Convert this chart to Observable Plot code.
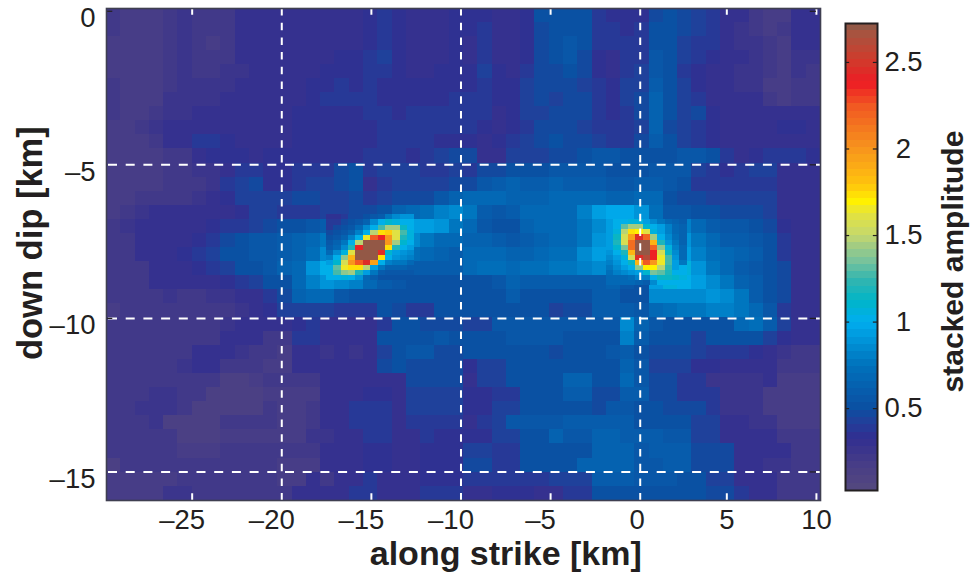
<!DOCTYPE html>
<html>
<head>
<meta charset="utf-8">
<script src="https://cdn.jsdelivr.net/npm/d3@7"></script>
<script src="https://cdn.jsdelivr.net/npm/@observablehq/plot@0.6"></script>
<style>
html,body{margin:0;padding:0;background:#fff}
#wrap{position:relative;width:971px;height:578px;overflow:hidden}
#wrap svg{position:absolute;left:0;top:0;overflow:visible}
</style>
</head>
<body>
<div id="wrap"></div>
<script>
// Axis ticks
const xGrid = [-20, -10, 0];
const yGrid = [-5, -10, -15];
const xInnerTicksNeg = [-25, -15, -5];
const xInnerTicksPos = [5, 10];
const xLabelsNeg = [-25, -20, -15, -10, -5];
const xLabelsPos = [0, 5, 10];
const yLabels = [0, -5, -10, -15];
const barTicks = [0.5, 1, 1.5, 2, 2.5];

// Colour map stops
const stopValues = [0.03, 0.15, 0.33, 0.42, 0.5, 0.75, 1.0, 1.12, 1.24, 1.36, 1.45, 1.5, 1.63, 1.69, 1.8, 2.0, 2.24, 2.38, 2.5, 2.66, 2.72];
const stopColors = ["#54487e", "#4a3f85", "#312e91", "#21409a", "#0b4fa2", "#0072bc", "#00aeef", "#00b5c8", "#32b5b0", "#7cc49a", "#a8cd7f", "#c5d86d", "#e6e33c", "#fff200", "#ffc20e", "#f7941d", "#f15a22", "#ed1c24", "#d2392b", "#a9533f", "#8b5a48"];
const barMin = 0.027, barMax = 2.725, levels = 64;

// Stacked amplitude x100, coarse grid, top row first, along-strike left to right
const heatRows = [
[20,19,17,17,21,27,22,20,21,28,28,29,30,30,29,28,28,30,33,38,35,31,31,32,34,33,36,31,29,34,50,52,52,50,38,36,35,36,48,50,46,42,40,30,28,20,19,19,28,30],
[20,19,17,17,21,27,21,20,21,28,28,29,30,30,29,29,29,31,34,38,35,31,31,32,34,33,37,31,29,33,49,52,53,52,40,37,36,37,50,50,46,42,40,30,27,20,19,20,28,30],
[19,18,17,17,20,26,20,19,21,28,28,29,30,30,30,30,31,32,36,40,36,31,31,32,33,32,38,32,29,33,47,52,54,50,40,37,37,38,52,52,44,40,38,30,27,26,22,19,28,30],
[19,18,17,18,21,25,20,20,22,28,28,29,30,31,30,31,33,34,38,42,36,32,31,32,33,32,40,32,30,35,46,50,54,48,36,30,38,40,54,52,42,38,35,30,28,26,20,18,27,25],
[19,18,17,18,21,24,21,22,24,27,28,29,31,31,31,33,35,36,38,38,35,32,32,33,34,33,42,33,32,40,46,48,50,46,36,30,40,44,56,50,40,36,30,28,27,26,20,18,24,20],
[20,18,18,19,23,25,24,24,26,28,28,29,31,32,33,36,38,36,38,36,34,33,33,34,36,35,40,34,34,42,46,46,48,44,38,35,42,44,58,50,42,36,30,28,27,26,19,18,20,20],
[20,19,18,19,24,26,26,26,28,28,29,30,32,32,34,38,40,38,38,36,35,35,36,36,38,38,40,34,36,44,46,44,46,46,40,36,42,46,62,50,42,38,32,30,28,28,20,18,20,20],
[20,19,19,21,25,27,28,28,30,30,30,30,31,33,33,36,36,36,37,37,36,37,38,38,38,40,38,32,34,42,44,46,46,46,40,36,40,46,64,50,42,48,34,30,30,28,30,30,28,28],
[18,18,20,24,28,30,30,31,30,30,30,30,31,33,34,36,34,34,36,40,38,38,40,38,38,38,34,30,34,40,46,48,46,44,40,38,38,44,62,48,42,40,36,30,30,30,30,34,34,30],
[18,17,19,23,28,31,38,40,34,32,32,32,32,33,35,35,34,33,36,38,40,40,38,36,36,35,32,34,40,44,48,50,46,45,42,40,38,46,58,50,44,40,36,30,30,30,30,30,30,28],
[16,16,17,18,20,22,30,34,36,34,30,33,36,36,36,34,34,34,38,40,38,36,38,42,46,45,30,32,42,42,44,46,46,52,56,56,52,52,50,50,56,54,50,40,30,36,40,38,38,36],
[17,17,18,18,20,22,25,26,32,38,40,36,36,38,40,38,46,50,40,42,44,42,40,40,44,40,46,48,50,52,52,56,56,56,56,52,50,52,54,56,54,42,38,36,38,42,42,30,30,30],
[17,17,17,18,20,22,23,26,40,44,46,36,34,38,42,44,48,52,32,38,44,42,42,44,48,48,56,60,62,60,60,62,60,60,60,56,56,60,60,55,50,38,38,38,40,40,40,32,30,30],
[17,18,21,22,21,22,25,30,36,42,44,42,44,46,46,42,44,48,40,44,48,46,48,56,62,66,68,66,64,64,62,66,68,68,66,62,62,66,70,50,48,46,44,44,42,44,44,32,30,28],
[19,20,26,28,28,28,30,30,32,34,42,42,40,38,38,42,44,46,46,52,62,66,72,80,84,76,60,56,60,68,70,66,66,80,92,96,96,88,72,56,54,52,50,48,46,46,42,30,30,28],
[20,24,28,28,28,28,32,36,38,40,44,46,50,52,54,58,66,72,100,120,100,95,92,88,78,66,55,50,52,62,66,66,66,78,85,98,105,110,110,96,80,70,60,56,56,52,46,34,30,28],
[20,20,28,30,30,30,34,40,48,52,55,56,58,62,68,75,100,200,170,110,92,84,76,70,66,64,64,60,55,58,62,68,70,78,88,96,130,180,170,130,88,75,68,60,58,56,52,40,30,28],
[20,20,28,30,30,34,38,44,50,52,55,56,60,64,72,85,110,260,140,100,80,72,66,62,60,66,68,66,62,62,70,72,74,86,92,100,140,220,220,130,95,82,72,66,62,58,52,40,30,28],
[20,20,22,28,30,30,36,40,44,50,53,56,62,70,88,100,150,170,110,75,65,60,60,58,58,70,72,72,70,72,74,76,78,82,86,90,100,130,150,170,105,88,78,68,60,56,52,45,30,28],
[20,20,22,28,28,28,30,30,33,40,43,50,53,66,80,88,85,80,70,58,54,50,50,50,50,53,53,55,62,60,58,58,58,60,60,62,55,52,95,105,100,95,85,75,65,58,52,46,30,28],
[20,22,22,22,24,22,22,24,24,30,30,40,46,62,68,68,55,52,50,50,50,50,50,50,50,52,52,52,58,52,52,52,50,50,58,60,50,50,85,85,85,85,88,85,75,60,52,46,28,28],
[16,20,22,22,22,22,22,22,22,25,28,35,42,44,44,42,40,40,40,50,45,40,40,50,50,52,52,52,52,52,52,42,46,48,60,60,60,55,68,72,75,75,80,82,78,68,55,40,30,30],
[20,20,20,20,20,20,20,20,25,30,30,30,32,36,38,32,32,32,32,38,52,52,48,45,45,42,42,54,54,54,54,54,54,54,54,54,85,65,55,52,50,50,50,50,66,72,58,42,32,32],
[20,20,20,20,20,20,20,20,28,30,30,22,20,38,40,30,30,30,30,50,50,52,52,54,52,50,50,50,55,55,55,55,52,50,50,50,80,60,50,50,50,42,50,50,50,52,44,35,30,30],
[20,20,20,20,20,22,28,30,32,25,20,20,18,30,28,26,28,24,28,42,52,55,55,46,46,50,50,50,50,50,50,46,50,50,52,56,58,50,45,45,45,44,40,38,38,36,32,24,20,20],
[20,20,21,22,22,26,28,28,20,20,20,19,18,30,30,30,30,30,30,48,50,48,45,45,45,35,42,42,52,52,52,52,52,52,52,52,65,55,42,42,42,36,36,28,28,28,28,20,20,20],
[20,22,22,22,22,20,20,20,15,15,16,20,20,20,20,30,30,30,30,28,28,45,45,45,45,32,42,42,52,52,52,52,62,62,52,52,68,55,45,45,38,38,26,26,26,26,30,18,18,18],
[22,22,22,24,24,22,22,14,14,14,14,18,18,18,18,30,30,30,36,36,28,42,42,42,42,35,35,40,40,52,52,52,60,60,48,48,58,58,45,45,38,38,38,26,26,26,18,18,18,18],
[22,22,24,24,24,22,15,15,15,15,15,20,18,18,22,30,30,38,38,38,30,42,42,42,42,34,34,42,42,52,52,52,52,52,48,55,55,52,52,45,45,45,38,26,26,26,17,17,17,17],
[20,22,22,25,14,14,14,14,20,20,20,20,18,18,22,30,30,38,38,38,30,40,40,40,40,32,38,44,54,54,54,54,58,58,58,58,58,50,50,50,52,42,42,28,28,27,27,18,18,18],
[20,20,20,20,20,15,15,15,18,18,18,18,18,18,25,25,30,30,38,38,28,28,38,35,35,33,33,44,44,52,52,62,55,55,62,62,58,58,58,55,55,42,42,30,30,28,28,20,20,20],
[20,20,20,20,22,16,16,16,20,20,20,20,20,20,20,28,28,28,36,36,30,30,33,33,33,42,42,40,40,52,52,52,52,52,65,65,65,55,60,60,60,45,45,45,32,32,28,28,20,20],
[14,20,20,20,22,20,20,20,20,20,20,20,18,18,18,30,30,30,36,36,30,30,33,33,33,48,48,40,40,50,50,50,50,62,62,62,62,55,55,60,60,45,45,45,30,30,27,27,20,20],
[18,18,18,18,18,20,20,20,20,20,20,20,18,18,28,20,30,30,38,30,30,30,36,36,36,38,38,38,38,38,38,42,42,42,58,58,58,55,55,55,52,52,42,42,28,28,30,20,20,20],
[18,18,18,18,24,24,20,20,20,23,23,23,20,28,28,28,30,38,38,30,30,30,38,38,38,32,32,36,36,36,30,30,38,38,52,52,50,50,50,50,50,50,45,45,40,32,32,20,20,20]
];
const xMin = -29.78, xMax = 10.06;
const gridX0 = xMin, gridDX = (xMax - xMin) / 50, gridY0 = 0.09, gridDY = -0.4574;

// Finer cells around the left peak
const peakA = [
[35,35,40,45,45,50,55,60,75,85,90,90],
[40,40,45,50,55,65,85,100,110,105,100,100],
[40,45,50,55,70,85,100,125,142,142,115,100],
[45,50,55,65,80,100,150,175,178,160,128,105],
[50,55,65,80,100,165,225,238,200,162,120,105],
[55,65,75,100,150,272,272,272,200,145,110,100],
[60,70,85,120,240,272,272,272,172,120,100,95],
[70,85,105,160,272,272,272,245,110,95,90,85],
[80,100,140,185,272,272,272,172,100,90,85,80],
[95,110,155,200,225,245,195,100,80,75,75,70],
[100,130,165,172,172,150,95,75,65,65,65,60],
[100,125,140,142,120,95,75,60,55,55,55,55],
[100,100,105,102,90,70,60,50,50,50,50,50]
];
const peakAx0 = -17.5, peakAy0 = -6.63;

// Finer cells around the right peak
const peakB = [
[95,100,100,105,105,95,85,75,70,65,60],
[95,102,130,145,145,110,100,95,80,70,62],
[95,105,150,172,168,162,105,95,80,70,65],
[95,115,155,195,245,220,145,100,85,72,65],
[95,118,155,215,272,272,185,120,90,75,65],
[95,110,135,215,272,272,220,140,105,80,70],
[90,100,120,185,272,272,238,155,115,85,70],
[85,95,105,155,245,260,235,165,125,90,70],
[80,90,100,115,185,225,200,165,125,95,75],
[75,85,95,100,140,170,170,150,122,95,100],
[72,80,85,90,95,110,135,130,120,100,100],
[70,70,70,72,80,80,100,115,115,110,105],
[70,70,70,70,65,60,85,100,100,100,100]
];
const peakBx0 = -1.89, peakBy0 = -6.79;
const peakDX = 0.41, peakDY = -0.165;

// Build cell tables from the arrays above
const quant = v => {
  const t = Math.min(levels - 1, Math.max(0, Math.floor((v - barMin) / (barMax - barMin) * levels)));
  return barMin + (t + 0.5) * (barMax - barMin) / levels;
};
function toCells(rows, x0, y0, dx, dy) {
  return rows.flatMap((row, j) => row.map((v, i) => ({
    x1: x0 + i * dx, x2: x0 + (i + 1) * dx,
    y1: y0 + j * dy, y2: y0 + (j + 1) * dy,
    value: quant(v / 100)
  })));
}
const cells = [
  ...toCells(heatRows, gridX0, gridY0, gridDX, gridDY),
  ...toCells(peakA, peakAx0, peakAy0, peakDX, peakDY),
  ...toCells(peakB, peakBx0, peakBy0, peakDX, peakDY)
];
const colorScale = {type: "linear", domain: stopValues, range: stopColors, clamp: true};
const ink = "#231f20";
const font = {fontFamily: "'Liberation Sans', Arial, sans-serif", background: "transparent"};
const yTop = 0.09, yBot = -15.93;
const dash = n => n < 0 ? "\u2013" + (-n) : String(n);

const main = Plot.plot({
  width: 971, height: 578,
  marginLeft: 106, marginRight: 151, marginTop: 8, marginBottom: 78,
  style: font,
  x: {domain: [xMin, xMax], axis: null},
  y: {domain: [yBot, yTop], axis: null},
  color: colorScale,
  marks: [
    Plot.rect(cells, {x1: "x1", x2: "x2", y1: "y1", y2: "y2", fill: "value", shapeRendering: "crispEdges"}),
    Plot.ruleX(xGrid, {stroke: "white", strokeWidth: 2, strokeDasharray: "7.5,7.2"}),
    Plot.ruleY(yGrid, {stroke: "white", strokeWidth: 2, strokeDasharray: "9,8.7", dx: 2}),
    Plot.ruleX(xInnerTicksNeg, {y1: yTop, y2: yTop - 0.22, stroke: "white", strokeWidth: 2}),
    Plot.ruleX(xInnerTicksNeg, {y1: yBot, y2: yBot + 0.22, stroke: "white", strokeWidth: 2}),
    Plot.ruleX(xInnerTicksPos, {y1: yTop, y2: yTop - 0.22, stroke: "white", strokeWidth: 2, dx: -3}),
    Plot.ruleX(xInnerTicksPos, {y1: yBot, y2: yBot + 0.22, stroke: "white", strokeWidth: 2, dx: -3}),
    Plot.ruleY([0, -10], {x1: xMin, x2: xMin + 0.35, stroke: ink, strokeWidth: 1.2}),
    Plot.ruleY([0, -5, -10, -15], {x1: xMax - 0.35, x2: xMax, stroke: ink, strokeWidth: 1.2, dx: -4}),
    Plot.frame({stroke: "#3f3f50", strokeWidth: 1.6}),
    Plot.axisX(xLabelsNeg, {tickSize: 0, tickPadding: 9, fontSize: 27.5, dx: -10, tickFormat: dash, label: null, fill: ink}),
    Plot.axisX(xLabelsPos, {tickSize: 0, tickPadding: 9, fontSize: 27.5, dx: -3, tickFormat: dash, label: null, fill: ink}),
    Plot.axisY(yLabels, {tickSize: 0, tickPadding: 11, fontSize: 27.5, dy: 7, tickFormat: dash, label: null, fill: ink}),
    Plot.text(["along strike [km]"], {x: -7.5, frameAnchor: "bottom", dy: 64, fontSize: 34, fontWeight: "bold", fill: ink}),
    Plot.text(["down dip [km]"], {y: -7.55, frameAnchor: "left", dx: -76, rotate: -90, textAnchor: "middle", fontSize: 34.5, fontWeight: "bold", fill: ink})
  ]
});

const barCells = d3.range(levels).map(i => ({
  y1: barMin + i * (barMax - barMin) / levels,
  y2: barMin + (i + 1) * (barMax - barMin) / levels,
  value: barMin + (i + 0.5) * (barMax - barMin) / levels
}));
const bar = Plot.plot({
  width: 971, height: 578,
  marginLeft: 845, marginRight: 94, marginTop: 23, marginBottom: 88,
  style: font,
  x: {domain: [0, 1], axis: null},
  y: {domain: [barMin, barMax], axis: null},
  color: colorScale,
  marks: [
    Plot.rect(barCells, {x1: 0, x2: 1, y1: "y1", y2: "y2", fill: "value", shapeRendering: "crispEdges"}),
    Plot.ruleY(barTicks, {x1: 0, x2: 0.13, stroke: ink, strokeWidth: 1.2}),
    Plot.ruleY(barTicks, {x1: 0.87, x2: 1, stroke: ink, strokeWidth: 1.2}),
    Plot.frame({stroke: ink, strokeWidth: 2}),
    Plot.text(barTicks, {y: d => d, text: d => String(d), frameAnchor: "right", dx: 26, textAnchor: "middle", fontSize: 27.5, fill: ink}),
    Plot.text(["stacked amplitude"], {y: 1.35, frameAnchor: "right", dx: 76, rotate: -90, textAnchor: "middle", fontSize: 30, fontWeight: "bold", fill: ink})
  ]
});

const wrap = document.getElementById("wrap");
wrap.append(main, bar);
</script>
</body>
</html>
